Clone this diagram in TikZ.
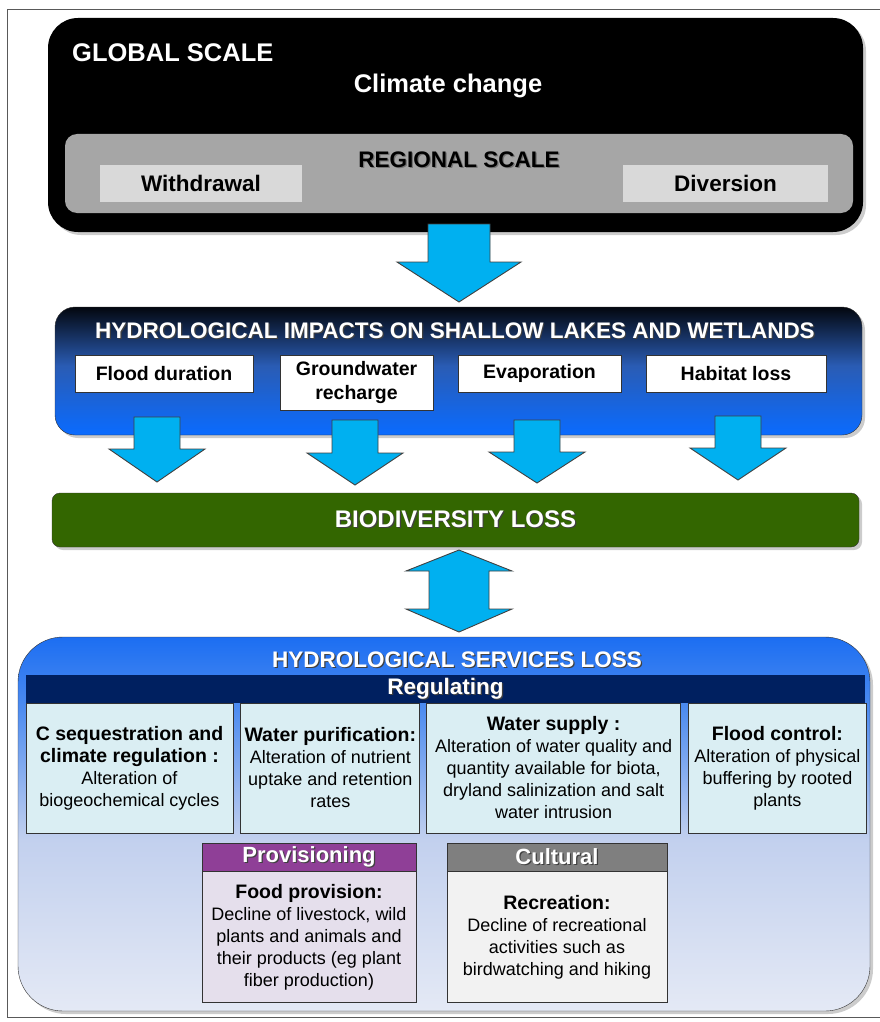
\documentclass[tikz,border=0pt]{standalone}
\usepackage{fontspec}
\setmainfont{Liberation Sans}
\usetikzlibrary{shadows, positioning}

\definecolor{arrowblue}{RGB}{0,176,240}
\definecolor{regiongray}{RGB}{166,166,166}
\definecolor{boxgray}{RGB}{217,217,217}
\definecolor{biogreen}{RGB}{51,102,0}
\definecolor{navyband}{RGB}{0,32,96}
\definecolor{regfill}{RGB}{218,238,243}
\definecolor{provpurple}{RGB}{143,63,151}
\definecolor{provfill}{RGB}{229,223,236}
\definecolor{cultgray}{RGB}{127,127,127}
\definecolor{cultfill}{RGB}{242,242,242}
\definecolor{impT}{RGB}{3,7,15}
\definecolor{impM}{RGB}{42,92,180}
\definecolor{impB}{RGB}{10,107,255}
\definecolor{svT}{RGB}{28,110,242}
\definecolor{svM}{RGB}{74,138,240}
\definecolor{svL}{RGB}{194,208,238}
\definecolor{svB}{RGB}{228,233,245}

\pgfdeclareverticalshading{impactshade}{100bp}{color(0bp)=(impB); color(25bp)=(impB); color(52bp)=(impM); color(75bp)=(impT); color(100bp)=(impT)}
\pgfdeclareverticalshading{serviceshade}{100bp}{color(0bp)=(svB); color(25bp)=(svB); color(48bp)=(svL); color(66bp)=(svM); color(75bp)=(svT); color(100bp)=(svT)}

\newcommand{\shadowed}[1]{\makebox[0pt][l]{\raisebox{-1.2pt}{\hspace{1.2pt}\textcolor{black!75}{#1}}}#1}
\newcommand{\bhead}[1]{{\bfseries\fontsize{19.5}{22}\selectfont #1}}
\newcommand{\blockarrow}[6]{%
    \draw [blockarrow] (#1-#5,#2) -- (#1+#5,#2) -- (#1+#5,#3) -- (#1+#6,#3)
        -- (#1,#4) -- (#1-#6,#3) -- (#1-#5,#3) -- cycle;}

\begin{document}
\begin{tikzpicture}[x=1pt, y=-1pt,
    panel/.style={inner sep=0pt, drop shadow={shadow xshift=3pt, shadow yshift=-3pt, opacity=0.4}},
    title/.style={text=white, font=\bfseries\fontsize{22.5}{27}\selectfont, inner sep=0pt},
    scalebox/.style={fill=boxgray, inner sep=0pt, minimum height=37, font=\bfseries\fontsize{22.5}{27}\selectfont},
    impactbox/.style={fill=white, draw=black!80, line width=0.8pt, inner sep=0pt, align=center, font=\bfseries\fontsize{19.5}{24}\selectfont},
    regbox/.style={fill=regfill, draw=black!80, line width=0.8pt, inner sep=0pt, minimum height=130, align=center, font=\fontsize{18}{22}\selectfont},
    headbox/.style={draw=black!80, line width=0.8pt, inner sep=0pt, minimum height=28, text=white, font=\bfseries\fontsize{22}{26}\selectfont},
    bodybox/.style={draw=black!80, line width=0.8pt, inner sep=0pt, minimum height=131, align=center, font=\fontsize{18}{22}\selectfont},
    blockarrow/.style={fill=arrowblue, draw=black!75, line width=0.9pt, line join=miter}]
    \useasboundingbox (0,0) rectangle (880,1022);
    % Frame (open on the right)
    \draw [black!65, line width=1pt] (880,10) -- (7,10) -- (7,1017) -- (880,1017);

    % Global and regional scale
    \node [panel, fill=black, rounded corners=30pt, minimum width=815, minimum height=214] (global) at (455.5,125) {};
    \node [title, font=\bfseries\fontsize{25.5}{30}\selectfont, anchor=base west] (globaltxt) at (72,62) {GLOBAL SCALE};
    \node [title, font=\bfseries\fontsize{25.5}{30}\selectfont, anchor=base] (climate) at (448,93) {Climate change};
    \node [fill=regiongray, rounded corners=12pt, inner sep=0pt, minimum width=788, minimum height=79] (regional) at (459,173.5) {};
    \node [title, text=black, anchor=base] (regionaltxt) at (459,167)
        {\makebox[0pt][l]{\raisebox{-1.2pt}{\hspace{1.2pt}\textcolor{black!55}{REGIONAL SCALE}}}REGIONAL SCALE};
    \node [scalebox, minimum width=202] (withdrawal) at (201,183.5) {Withdrawal};
    \node [scalebox, minimum width=205] (diversion) at (725.5,183.5) {Diversion};

    \blockarrow{459}{224}{262}{302}{31}{62}

    % Hydrological impacts
    \node [panel, shading=impactshade, draw=black!80, rounded corners=20pt, minimum width=807, minimum height=128] (impacts) at (458.5,371) {};
    \node [title, anchor=base] (impactstxt) at (455,338) {\shadowed{HYDROLOGICAL IMPACTS ON SHALLOW LAKES AND WETLANDS}};
    \node [impactbox, minimum width=178, minimum height=37] (flood) at (164,373.5) {Flood duration};
    \node [impactbox, minimum width=153, minimum height=55] (ground) at (356.5,382.5) {Groundwater\\recharge};
    \node [impactbox, minimum width=163, minimum height=37] (evap) at (539.5,373.5) {Evaporation};
    \node [impactbox, minimum width=180, minimum height=37] (habitat) at (736,373.5) {Habitat loss};

    \foreach \ax/\at/\ah/\ab in {157/417/449/482, 355/420/453/485, 537/420/452/483, 738/416/448/480}
        \blockarrow{\ax}{\at}{\ah}{\ab}{23}{48};

    % Biodiversity loss
    \node [panel, fill=biogreen, draw=black!80, rounded corners=8pt, minimum width=807, minimum height=54,
        text=white, font=\bfseries\fontsize{24}{28}\selectfont] (bio) at (455.5,520) {\shadowed{BIODIVERSITY LOSS}};

    \draw [blockarrow] (459,550) -- (512,571) -- (489,571) -- (489,609) -- (512,609) -- (459,632)
        -- (406,609) -- (429,609) -- (429,571) -- (406,571) -- cycle;

    % Hydrological services loss
    \node [panel, shading=serviceshade, draw=black!80, rounded corners=45pt, minimum width=852, minimum height=374] (services) at (444,824) {};
    \node [title, anchor=base] (servicestxt) at (457,667) {\shadowed{HYDROLOGICAL SERVICES LOSS}};
    \node [fill=navyband, inner sep=0pt, minimum width=839, minimum height=28, title] (regband) at (445.5,689) {\shadowed{Regulating}};

    \node [regbox, minimum width=207] (cseq) at (129.5,768)
        {\bhead{C sequestration and}\\\bhead{climate regulation :}\\Alteration of\\biogeochemical cycles};
    \node [regbox, minimum width=179, right=7pt of cseq] (purif)
        {\bhead{Water purification:}\\Alteration of nutrient\\uptake and retention\\rates};
    \node [regbox, minimum width=254, right=6pt of purif] (supply)
        {\bhead{Water supply :}\\Alteration of water quality and\\quantity available for biota,\\dryland salinization and salt\\water intrusion};
    \node [regbox, minimum width=178, right=7pt of supply] (floodctl)
        {\bhead{Flood control:}\\Alteration of physical\\buffering by rooted\\plants};

    % Provisioning and cultural
    \node [headbox, fill=provpurple, minimum width=214] (provhead) at (309,857) {\shadowed{Provisioning}};
    \node [bodybox, fill=provfill, minimum width=214, below=0pt of provhead] (provbody)
        {\bhead{Food provision:}\\Decline of livestock, wild\\plants and animals and\\their products (eg plant\\fiber production)};
    \node [headbox, fill=cultgray, minimum width=220] (culthead) at (557,857) {\shadowed{Cultural}};
    \node [bodybox, fill=cultfill, minimum width=220, below=0pt of culthead] (cultbody)
        {\bhead{Recreation:}\\Decline of recreational\\activities such as\\birdwatching and hiking};
\end{tikzpicture}
\end{document}
